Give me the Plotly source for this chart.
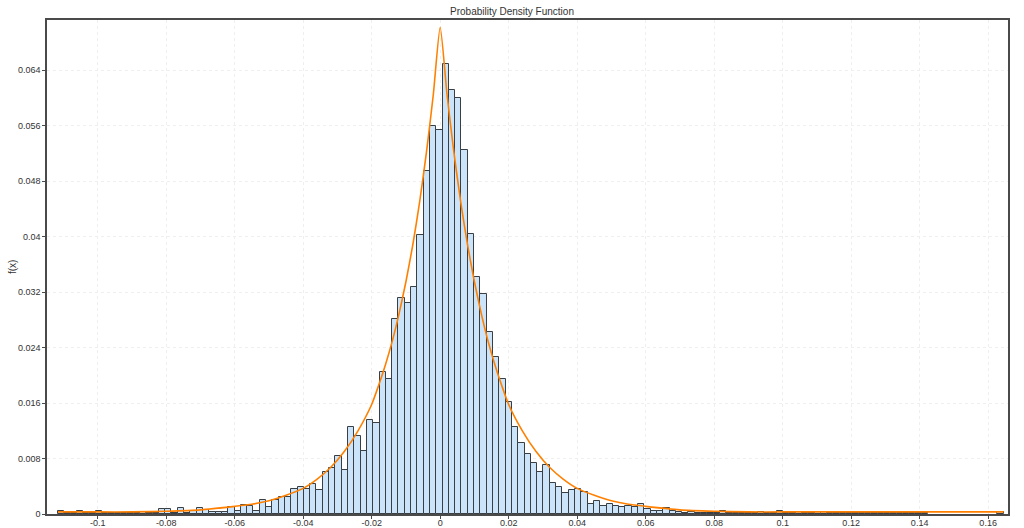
import plotly.graph_objects as go

# Histogram: 150 equal-width bins (relative frequency per bin)
bin_start = -0.1116
bin_width = 0.001841
freq = [
    0.0004, 0.0001, 0.0001, 0.0004, 0.0001, 0.0001, 0.0004, 0.0001, 0.0001, 0.0001,
    0.0001, 0.0001, 0.0001, 0.0003, 0.0001, 0.0002, 0.0007, 0.0007, 0.0002, 0.0009,
    0.0002, 0.0004, 0.0008, 0.0006, 0.0003, 0.0003, 0.0003, 0.0010, 0.0005, 0.0013,
    0.0011, 0.0004, 0.0020, 0.0010, 0.0020, 0.0025, 0.0025, 0.0036, 0.0039, 0.0036,
    0.0043, 0.0035, 0.0061, 0.0066, 0.0083, 0.0063, 0.0126, 0.0113, 0.0091, 0.0135,
    0.0131, 0.0205, 0.0194, 0.0281, 0.0312, 0.0304, 0.0328, 0.0402, 0.0495, 0.0559,
    0.0554, 0.0649, 0.0612, 0.0600, 0.0525, 0.0404, 0.0342, 0.0318, 0.0263, 0.0227,
    0.0194, 0.0161, 0.0126, 0.0103, 0.0087, 0.0074, 0.0060, 0.0070, 0.0045, 0.0039,
    0.0030, 0.0034, 0.0036, 0.0032, 0.0015, 0.0019, 0.0011, 0.0015, 0.0011, 0.0010,
    0.0011, 0.0010, 0.0015, 0.0007, 0.0005, 0.0005, 0.0009, 0.0004, 0.0003, 0.0002,
    0.0003, 0.0001, 0.0002, 0.0001, 0.0002, 0.0005, 0.0001, 0.0001, 0.0002, 0.0001,
    0.0001, 0.0003, 0.0001, 0.0001, 0.0005, 0.0002, 0.0001, 0.0003, 0.0001, 0.0001,
    0.0003, 0.0003, 0.0001, 0.0001, 0.0001, 0.0001, 0.0001, 0.0001, 0.0001, 0.0001,
    0.0001, 0.0001, 0.0001, 0.0001, 0.0001, 0.0001, 0.0001, 0.0001, None, None,
    None, None, None, None, None, None, None, None, None, 0.0003,
]

# Fitted PDF curve
pdf_x = [-0.1116, -0.10, -0.09, -0.08, -0.07, -0.06, -0.055, -0.05, -0.045, -0.04,
         -0.036, -0.032, -0.028, -0.024, -0.020, -0.018, -0.016, -0.014, -0.012,
         -0.010, -0.008, -0.006, -0.004, -0.002, 0.0, 0.002, 0.004, 0.006, 0.008,
         0.010, 0.012, 0.014, 0.016, 0.018, 0.020, 0.024, 0.028, 0.032, 0.036,
         0.040, 0.045, 0.050, 0.055, 0.060, 0.070, 0.080, 0.090, 0.100, 0.120,
         0.142, 0.1645]
pdf_y = [0.0003, 0.0003, 0.0003, 0.0004, 0.0006, 0.0011, 0.0014, 0.0019, 0.0027, 0.0037,
         0.0050, 0.0067, 0.0090, 0.0120, 0.0158, 0.0185, 0.0215, 0.0249, 0.0289,
         0.0335, 0.0388, 0.0450, 0.0522, 0.0605, 0.0702, 0.0605, 0.0522, 0.0450, 0.0388,
         0.0335, 0.0289, 0.0249, 0.0215, 0.0185, 0.0158, 0.0120, 0.0090, 0.0067, 0.0050,
         0.0037, 0.0027, 0.0019, 0.0014, 0.0011, 0.0006, 0.0004, 0.0003, 0.0003, 0.0003,
         0.0003, 0.0003]

x_tick_vals = [-0.1, -0.08, -0.06, -0.04, -0.02, 0, 0.02, 0.04, 0.06, 0.08, 0.1, 0.12, 0.14, 0.16]
x_tick_text = ["-0.1", "-0.08", "-0.06", "-0.04", "-0.02", "0", "0.02", "0.04", "0.06",
               "0.08", "0.1", "0.12", "0.14", "0.16"]
y_tick_vals = [0, 0.008, 0.016, 0.024, 0.032, 0.04, 0.048, 0.056, 0.064]
y_tick_text = ["0", "0.008", "0.016", "0.024", "0.032", "0.04", "0.048", "0.056", "0.064"]

FONT = "Liberation Sans, Arial, sans-serif"
AXIS = "#4a4a4a"
W, H = 1024, 528
ML, MR, MT, MB = 47, 16, 20, 14

fig = go.Figure()
fig.add_trace(go.Bar(
    y=freq, x0=bin_start + bin_width / 2, dx=bin_width,
    marker=dict(color="#cce4fa", line=dict(color="#3a3f44", width=1)),
    hoverinfo="skip", showlegend=False,
))
fig.add_trace(go.Scatter(
    x=pdf_x, y=pdf_y, mode="lines",
    line=dict(color="#ff8000", width=1.6, shape="spline", smoothing=0.6),
    showlegend=False, hoverinfo="skip",
))

fig.update_layout(
    width=W, height=H,
    template="none",
    paper_bgcolor="white", plot_bgcolor="white",
    margin=dict(l=ML, r=MR, t=MT, b=MB, autoexpand=False),
    bargap=0,
    font=dict(family=FONT, size=9, color="#333333"),
    title=dict(text="Probability Density Function", x=0.5, xref="container", xanchor="center",
               y=1 - 11 / H, yref="container", yanchor="middle",
               font=dict(family=FONT, size=10, color="#333333")),
    xaxis=dict(range=[-0.1148, 0.1658], tickvals=x_tick_vals, ticktext=x_tick_text,
               showgrid=True, gridcolor="#efefef", griddash="dot", gridwidth=1,
               zeroline=False, showline=True, linecolor=AXIS, linewidth=1.5, mirror=True,
               ticks="outside", ticklen=3, tickcolor=AXIS, automargin=False,
               ticklabelstandoff=-4,
               tickfont=dict(size=9, color="#333333")),
    yaxis=dict(range=[0, 0.07125], tickvals=y_tick_vals, ticktext=y_tick_text,
               showgrid=True, gridcolor="#efefef", griddash="dot", gridwidth=1,
               zeroline=False, showline=True, linecolor=AXIS, linewidth=1.5, mirror=True,
               ticks="outside", ticklen=3, tickcolor=AXIS, automargin=False,
               tickfont=dict(size=9, color="#333333")),
    annotations=[dict(text="f(x)", x=(12 - ML) / (W - ML - MR), y=0.5, xref="paper", yref="paper",
                      textangle=-90, showarrow=False, font=dict(size=10, color="#333333"),
                      xanchor="center", yanchor="middle")],
)

fig.write_html("out.html",
               config={"displayModeBar": False},
               post_script="document.body.style.margin='0';document.body.style.overflow='hidden';")
